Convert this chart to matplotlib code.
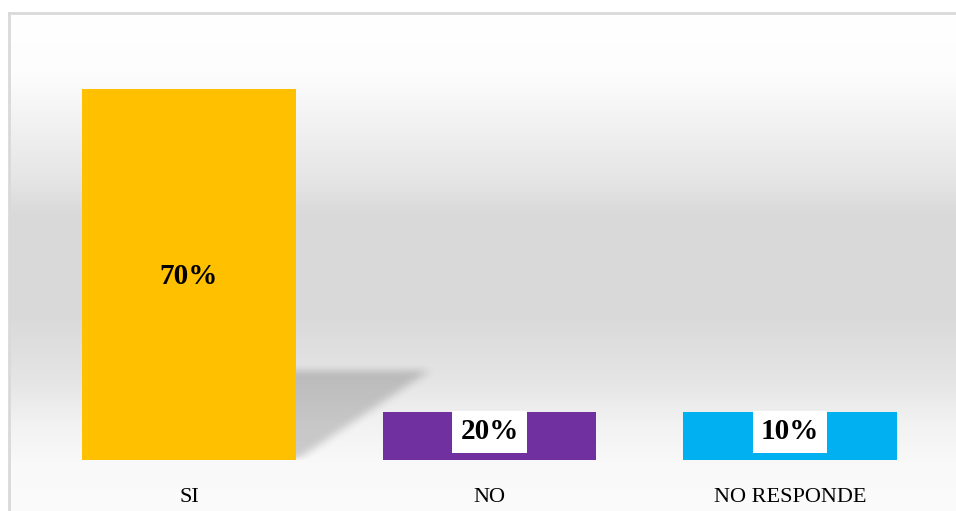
import numpy as np
import matplotlib
matplotlib.use("Agg")
import matplotlib.pyplot as plt
from matplotlib.path import Path

# ---- data ----
categories = ["SI", "NO", "NO RESPONDE"]
label_texts = ["70%", "20%", "10%"]
bar_heights = [70, 9, 9]          # heights as drawn in the reference
bar_colors = ["#FFC000", "#7030A0", "#00B0F0"]

W, H = 956, 511
fig = plt.figure(figsize=(W / 100, H / 100), dpi=100)
fig.patch.set_facecolor("white")

def px_rect(x0, y0, x1, y1):
    return [x0 / W, 1 - y1 / H, (x1 - x0) / W, (y1 - y0) / H]

# background gradient panel
ax_bg = fig.add_axes(px_rect(9, 13, 960, 515))
stops_y = np.array([0, 60, 100, 167, 200, 300, 367, 410, 450, 502])
stops_v = np.array([255, 253, 244, 229, 218, 217, 229, 242, 249, 251]) / 255
yy = np.arange(502)
vals = np.interp(yy, stops_y, stops_v)
grad = np.repeat(vals[:, None], 2, axis=1)
ax_bg.imshow(np.dstack([grad, grad, grad]), aspect="auto", extent=[0, 1, 0, 1],
             interpolation="bilinear")
ax_bg.set_xticks([]); ax_bg.set_yticks([])
for s in ["right", "bottom"]:
    ax_bg.spines[s].set_visible(False)
for s in ["left", "top"]:
    ax_bg.spines[s].set_color("#d9d9d9")
    ax_bg.spines[s].set_linewidth(2)

# main axes
ax = fig.add_axes(px_rect(9, 13, 956, 460))
ax.patch.set_alpha(0)
pxu = 300.5
x0px = 189
ax.set_xlim((9 - x0px) / pxu, (956 - x0px) / pxu)
ypx = 371 / 70
ax.set_ylim(0, (460 - 13) / ypx)
for s in ax.spines.values():
    s.set_visible(False)
ax.set_yticks([])

x = np.arange(len(categories))
width = 0.712

# blurred shadow behind the first bar
sx0, sx1 = 0.30, 0.95
sy0, sy1 = 0.0, 24.0
nx, ny = 260, 240
gx = np.linspace(sx0, sx1, nx)
gy = np.linspace(sy0, sy1, ny)
GX, GY = np.meshgrid(gx, gy)
right = x[0] + width / 2
poly = Path([(right - 0.05, 0.3), (right - 0.05, 16.8), (0.80, 16.8), (right + 0.01, 0.3)])
mask = poly.contains_points(np.c_[GX.ravel(), GY.ravel()]).reshape(ny, nx).astype(float)
def blur(a, k, axis):
    ker = np.ones(k) / k
    return np.apply_along_axis(lambda r: np.convolve(r, ker, mode="same"), axis, a)
for _ in range(3):
    mask = blur(mask, 13, 1)
    mask = blur(mask, 13, 0)
rgba = np.zeros((ny, nx, 4))
rgba[..., 3] = mask * 0.18
ax.imshow(rgba, extent=[sx0, sx1, sy0, sy1], origin="lower", aspect="auto",
          interpolation="bilinear", zorder=1)

ax.bar(x, bar_heights, width=width, color=bar_colors, zorder=2)

for i, (h, t) in enumerate(zip(bar_heights, label_texts)):
    if i == 0:
        ax.text(x[i], h / 2 - 0.3, t, ha="center", va="center", fontsize=21,
                fontweight="bold", family="Liberation Serif", zorder=3)
    else:
        ax.text(x[i], h / 2 + 0.8, t, ha="center", va="center", fontsize=21,
                fontweight="bold", family="Liberation Serif", zorder=3,
                bbox=dict(boxstyle="square,pad=0.27", fc="white", ec="none"))

ax.set_xticks(x)
ax.set_xticklabels(categories, family="Liberation Serif", fontsize=16)
ax.tick_params(axis="x", length=0, pad=20)
ax.set_xlim((9 - x0px) / pxu, (956 - x0px) / pxu)

fig.savefig("out.png", dpi=100)
